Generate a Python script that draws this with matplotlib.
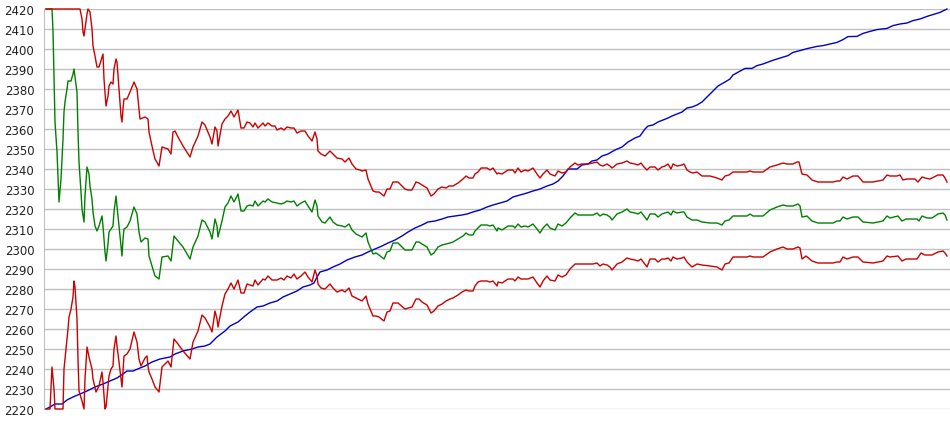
import numpy as np
import matplotlib
matplotlib.use("Agg")
import matplotlib.pyplot as plt

upper_t = [46, 80, 82, 83, 84, 87, 88, 90, 92, 93, 95, 97, 99, 102, 103, 104, 106, 108, 109, 111,
           113, 114, 116, 117, 119, 121, 122, 123, 124, 127, 130, 134, 137, 139, 140, 145, 148, 149, 152, 155,
           159, 162, 168, 171, 173, 175, 178, 183, 190, 193, 198, 202, 205, 210, 212, 215, 217, 218, 222, 225,
           228, 231, 234, 238, 241, 244, 247, 250, 253, 255, 258, 263, 265, 268, 272, 275, 277, 281, 284, 287,
           291, 294, 297, 301, 305, 308, 312, 315, 317, 318, 321, 325, 330, 333, 337, 342, 345, 349, 352, 356,
           360, 362, 366, 368, 373, 376, 379, 384, 387, 390, 393, 398, 405, 408, 412, 416, 419, 422, 427, 431,
           434, 438, 442, 446, 449, 453, 458, 463, 466, 469, 473, 475, 478, 481, 487, 490, 493, 497, 498, 502,
           505, 508, 513, 515, 518, 521, 525, 528, 533, 537, 540, 543, 547, 550, 555, 558, 562, 566, 570, 575,
           578, 582, 588, 593, 597, 600, 603, 607, 610, 612, 617, 622, 627, 630, 635, 638, 641, 644, 647, 650,
           655, 658, 662, 665, 668, 671, 673, 677, 682, 684, 687, 690, 693, 697, 702, 710, 717, 722, 725, 729,
           733, 747, 750, 753, 763, 770, 777, 783, 787, 793, 797, 799, 802, 807, 812, 818, 833, 837, 840, 843,
           847, 853, 858, 863, 873, 878, 883, 887, 890, 897, 900, 903, 907, 915, 918, 922, 925, 930, 938, 943,
           945, 947]
upper = [2420, 2420, 2415, 2408.5, 2406.5, 2417.5, 2420, 2418.5, 2410, 2401.5, 2396.5, 2391, 2391, 2396, 2397.5, 2385, 2371.5, 2376.5, 2381.5, 2383.5,
         2382.5, 2390, 2395, 2393.5, 2380, 2366.5, 2363.5, 2370, 2375, 2375, 2378.5, 2383.5, 2380, 2370, 2365, 2366, 2365, 2358.5, 2351.5, 2345,
         2341.5, 2351, 2350, 2347.5, 2358.5, 2359, 2356, 2351.5, 2346, 2351, 2356.5, 2363.5, 2362, 2356, 2352.5, 2361, 2359, 2351.5, 2362.5, 2365,
         2366.5, 2369, 2366, 2369.5, 2360.5, 2360.5, 2363.5, 2363, 2361, 2363, 2360.5, 2363, 2361.5, 2363, 2361.5, 2361.5, 2359.5, 2360.5, 2359.5, 2361,
         2360.5, 2360.5, 2358, 2359, 2359, 2356.5, 2354, 2358.5, 2355, 2349, 2347.5, 2346.5, 2349, 2347.5, 2345.5, 2345, 2343.5, 2345.5, 2342.5, 2340,
         2339.5, 2339, 2339.5, 2335, 2329, 2328.5, 2328.5, 2326.5, 2330, 2330, 2333.5, 2333.5, 2330, 2329.5, 2329.5, 2333.5, 2333, 2332, 2330.5, 2326.5,
         2327.5, 2330, 2331, 2330.5, 2331.5, 2331.5, 2333, 2335, 2336.5, 2335.5, 2335.5, 2337.5, 2338.5, 2340.5, 2340.5, 2339.5, 2340.5, 2337.5, 2338, 2337.5,
         2338.5, 2339.5, 2339.5, 2338, 2340.5, 2338.5, 2339.5, 2339, 2340.5, 2337.5, 2335.5, 2337.5, 2339.5, 2337.5, 2336.5, 2339, 2338, 2338.5, 2341, 2343,
         2342, 2342.5, 2342.5, 2343, 2343.5, 2342, 2341.5, 2342.5, 2341.5, 2340.5, 2342.5, 2343, 2344, 2343, 2342.5, 2342, 2343, 2341, 2339.5, 2341,
         2341, 2339.5, 2341, 2341.5, 2342.5, 2340, 2342.5, 2341.5, 2342, 2342.5, 2339.5, 2338.5, 2338, 2338.5, 2336.5, 2336.5, 2335.5, 2334.5, 2336.5, 2337,
         2338.5, 2338.5, 2339, 2338.5, 2338.5, 2341, 2342, 2343, 2342.5, 2342.5, 2343.5, 2343.5, 2337.5, 2337, 2334.5, 2333.5, 2333.5, 2334, 2334, 2336,
         2335, 2336.5, 2336.5, 2333.5, 2333.5, 2334, 2334.5, 2337, 2336.5, 2336.5, 2337, 2334.5, 2335, 2335, 2333.5, 2336, 2335.5, 2335, 2337, 2337,
         2335.5, 2333.5]

mid_t = [46, 52, 53, 54, 55, 57, 58, 59, 61, 62, 63, 64, 65, 67, 68, 71, 73, 74, 75, 77,
         78, 79, 81, 82, 84, 85, 87, 89, 90, 92, 93, 95, 97, 99, 102, 103, 105, 106, 108, 109,
         111, 113, 114, 116, 117, 119, 121, 122, 123, 124, 127, 130, 134, 137, 139, 141, 145, 148, 149, 152,
         155, 159, 162, 168, 171, 174, 178, 183, 190, 193, 198, 202, 205, 210, 212, 215, 217, 218, 222, 225,
         228, 231, 234, 238, 241, 244, 247, 250, 253, 255, 258, 263, 265, 268, 272, 277, 281, 284, 287, 291,
         294, 297, 301, 305, 308, 312, 315, 317, 318, 322, 325, 330, 333, 337, 342, 345, 349, 352, 356, 360,
         362, 366, 368, 373, 376, 379, 384, 387, 390, 393, 398, 405, 412, 416, 419, 422, 427, 431, 434, 438,
         442, 446, 450, 453, 458, 463, 466, 469, 473, 475, 478, 481, 487, 490, 493, 497, 498, 502, 505, 508,
         513, 515, 518, 521, 525, 528, 533, 537, 540, 543, 547, 550, 555, 558, 562, 566, 570, 575, 578, 593,
         597, 600, 603, 607, 610, 612, 617, 622, 627, 630, 635, 638, 641, 644, 647, 650, 655, 658, 662, 665,
         668, 671, 673, 677, 682, 684, 687, 692, 697, 702, 710, 717, 722, 725, 729, 733, 747, 750, 753, 763,
         770, 777, 783, 787, 793, 798, 800, 802, 807, 812, 818, 833, 837, 840, 843, 847, 853, 858, 863, 873,
         878, 883, 887, 890, 898, 902, 906, 917, 919, 922, 927, 932, 938, 943, 945, 947]
mid = [2420, 2420, 2409, 2386, 2363.5, 2348.5, 2336.5, 2323.5, 2335, 2345, 2355, 2368.5, 2373.5, 2380, 2384, 2384, 2387.5, 2390, 2386, 2378.5,
       2358.5, 2343.5, 2328.5, 2320, 2313.5, 2326.5, 2341, 2337.5, 2331.5, 2325, 2318.5, 2311.5, 2309, 2311.5, 2316.5, 2311.5, 2298.5, 2294, 2302.5, 2308.5,
       2310, 2311.5, 2318.5, 2326.5, 2321.5, 2311.5, 2301.5, 2296.5, 2305, 2310, 2311, 2314, 2321, 2317.5, 2308.5, 2303.5, 2305.5, 2305, 2296.5, 2291.5,
       2286.5, 2285, 2296, 2296.5, 2294, 2306.5, 2304, 2301, 2295, 2301, 2306.5, 2314.5, 2313.5, 2308.5, 2305, 2315, 2311.5, 2306, 2314, 2321,
       2323, 2326.5, 2323.5, 2327.5, 2319, 2319, 2321.5, 2322, 2321.5, 2324, 2321.5, 2324, 2323.5, 2325, 2323.5, 2323, 2322.5, 2323, 2324, 2323.5,
       2324, 2321.5, 2323, 2324, 2321.5, 2318.5, 2324.5, 2321.5, 2316.5, 2313.5, 2313, 2316, 2313.5, 2312, 2311.5, 2311, 2312.5, 2309.5, 2307.5, 2306.5,
       2306, 2308, 2303.5, 2297.5, 2298, 2297, 2295, 2298.5, 2299, 2303, 2303, 2299.5, 2299.5, 2303.5, 2303.5, 2302.5, 2301, 2297, 2298, 2301,
       2302, 2302.5, 2303, 2303.5, 2305, 2306.5, 2308, 2307, 2307, 2309, 2310.5, 2312, 2312, 2311.5, 2312, 2309, 2310.5, 2309.5, 2310.5, 2311.5,
       2311.5, 2310.5, 2312.5, 2311, 2311.5, 2311, 2312.5, 2310, 2308, 2310.5, 2312.5, 2310.5, 2309.5, 2312.5, 2311.5, 2313, 2315.5, 2318, 2317, 2317,
       2318, 2316.5, 2317.5, 2317, 2316, 2314.5, 2317.5, 2318.5, 2320, 2318.5, 2318, 2317.5, 2318.5, 2316.5, 2314.5, 2317.5, 2317.5, 2316, 2317.5, 2318,
       2318.5, 2317, 2319, 2318, 2318.5, 2318.5, 2316, 2314.5, 2314.5, 2313.5, 2313, 2313, 2312, 2314, 2314.5, 2316.5, 2316.5, 2317.5, 2316.5, 2316.5,
       2319.5, 2321, 2322, 2321.5, 2321.5, 2322.5, 2321.5, 2316, 2316.5, 2314, 2313, 2313, 2314, 2314, 2316, 2315, 2316, 2316, 2313.5, 2313,
       2313.5, 2314, 2316.5, 2315.5, 2316.5, 2314, 2315, 2315, 2314, 2316.5, 2315.5, 2315.5, 2317.5, 2318, 2317, 2314.5]

lower_t = [46, 50, 51, 52, 54, 55, 63, 64, 66, 68, 69, 71, 73, 74, 75, 77, 78, 79, 82, 84,
           85, 87, 89, 92, 93, 96, 99, 102, 103, 105, 106, 108, 109, 111, 113, 114, 116, 117, 119, 121,
           122, 123, 124, 127, 130, 134, 137, 139, 141, 145, 147, 148, 149, 152, 155, 159, 162, 168, 171, 174,
           178, 183, 190, 193, 198, 202, 205, 210, 212, 215, 217, 218, 222, 225, 228, 231, 234, 238, 241, 244,
           247, 250, 253, 255, 258, 263, 265, 268, 272, 277, 281, 284, 287, 291, 294, 297, 301, 305, 308, 312,
           315, 317, 318, 321, 325, 330, 333, 337, 342, 345, 349, 352, 356, 360, 362, 366, 368, 373, 376, 379,
           384, 387, 390, 393, 398, 405, 412, 416, 419, 422, 427, 431, 434, 438, 442, 446, 450, 453, 458, 462,
           466, 469, 473, 475, 478, 481, 487, 490, 493, 497, 498, 502, 505, 508, 513, 515, 518, 521, 525, 528,
           533, 537, 540, 543, 547, 550, 555, 558, 562, 566, 570, 575, 593, 597, 600, 603, 607, 610, 612, 617,
           622, 627, 630, 635, 638, 641, 644, 647, 650, 655, 658, 662, 665, 668, 671, 673, 677, 682, 684, 687,
           692, 697, 702, 710, 717, 722, 725, 729, 733, 747, 750, 753, 763, 770, 777, 783, 787, 793, 798, 800,
           802, 806, 812, 818, 833, 837, 840, 843, 847, 853, 858, 863, 873, 878, 883, 887, 890, 898, 902, 906,
           917, 921, 925, 932, 938, 943, 945, 947]
lower = [2220, 2220, 2230, 2241, 2230, 2220, 2220, 2240, 2250, 2260, 2266, 2270, 2276, 2284, 2281, 2265, 2245, 2229, 2224, 2220,
         2235, 2251, 2246, 2240, 2235, 2228.5, 2231.5, 2238.5, 2233.5, 2220, 2221, 2231.5, 2236.5, 2240, 2241.5, 2250, 2256.5, 2251.5, 2243.5, 2235,
         2231, 2238.5, 2246.5, 2247.5, 2250, 2258.5, 2253.5, 2245, 2241.5, 2245.5, 2246.5, 2241.5, 2238.5, 2235, 2231, 2228.5, 2241, 2244, 2241, 2255,
         2252.5, 2249, 2245, 2253.5, 2259, 2267, 2265.5, 2261, 2258.5, 2269, 2265, 2261, 2271.5, 2277.5, 2280, 2283, 2280, 2284.5, 2278, 2278,
         2282.5, 2282, 2281.5, 2284.5, 2282, 2285, 2284.5, 2286.5, 2284.5, 2284.5, 2285.5, 2284.5, 2286.5, 2285.5, 2287.5, 2285, 2286.5, 2288.5, 2286, 2283.5,
         2289.5, 2286.5, 2282.5, 2280.5, 2280, 2282.5, 2280.5, 2278.5, 2279.5, 2278.5, 2280.5, 2276.5, 2275.5, 2274.5, 2274, 2276.5, 2272.5, 2266.5, 2266.5, 2266,
         2264, 2268.5, 2269, 2273, 2273, 2270, 2271, 2275, 2275, 2273.5, 2272, 2268, 2269, 2271.5, 2272.5, 2274, 2275, 2275.5, 2277, 2278.5,
         2279.5, 2279, 2279, 2281.5, 2283.5, 2284, 2284, 2283.5, 2284, 2281.5, 2283.5, 2283, 2284, 2285, 2285, 2284, 2286, 2285, 2285, 2285,
         2286, 2283, 2281, 2284, 2286.5, 2284.5, 2284, 2287, 2286, 2287, 2290, 2292.5, 2292.5, 2293, 2291.5, 2292.5, 2292, 2291, 2289.5, 2292.5,
         2293.5, 2295.5, 2295, 2294.5, 2294, 2295, 2293, 2291, 2295, 2295, 2293.5, 2295, 2295, 2295.5, 2294, 2296, 2295, 2295.5, 2296, 2293.5,
         2291, 2292.5, 2292, 2291.5, 2291, 2289.5, 2292.5, 2293, 2296, 2296, 2296.5, 2296, 2296, 2298.5, 2300, 2301, 2300, 2300, 2301, 2300.5,
         2295, 2296.5, 2294, 2293, 2293, 2293.5, 2293.5, 2296, 2295, 2296, 2296, 2293.5, 2293, 2293.5, 2294, 2296.5, 2296, 2296.5, 2294, 2295,
         2295, 2298, 2297, 2297, 2298.5, 2299, 2298, 2296.5]

trend_t = [46, 50, 55, 62, 67, 73, 80, 87, 95, 103, 110, 117, 123, 127, 133, 140, 145, 152, 160, 170,
           175, 183, 192, 198, 205, 210, 217, 225, 230, 238, 245, 250, 257, 263, 270, 277, 283, 290, 297, 303,
           310, 314, 317, 320, 327, 333, 340, 347, 355, 362, 368, 375, 382, 388, 395, 402, 408, 415, 422, 428,
           435, 442, 448, 455, 462, 467, 473, 480, 487, 493, 500, 507, 513, 520, 527, 533, 540, 547, 553, 558,
           563, 568, 577, 582, 588, 592, 597, 602, 608, 615, 622, 628, 635, 640, 645, 648, 653, 658, 663, 668,
           672, 677, 682, 687, 692, 697, 702, 705, 712, 718, 725, 730, 733, 745, 752, 757, 763, 772, 777, 788,
           793, 800, 808, 817, 823, 830, 837, 843, 848, 857, 863, 870, 877, 887, 893, 900, 907, 913, 920, 927,
           933, 940, 947]
trend = [2220, 2221, 2222.5, 2222.5, 2224.5, 2226, 2227.5, 2229, 2231, 2232.5, 2234, 2235.5, 2237.5, 2239, 2239, 2240.5, 2241.5, 2243.5, 2245, 2246,
         2247.5, 2249, 2250, 2251, 2251.5, 2252.5, 2256, 2259, 2261.5, 2263.5, 2266.5, 2268.5, 2271, 2271.5, 2273, 2274, 2276, 2277.5, 2279, 2281,
         2282, 2283, 2286, 2288.5, 2289.5, 2291, 2292.5, 2294.5, 2296, 2297, 2298.5, 2300, 2301.5, 2303, 2304.5, 2306.5, 2308.5, 2310.5, 2312, 2313.5,
         2314, 2315, 2316, 2316.5, 2317, 2317.5, 2318.5, 2319.5, 2321, 2322, 2323, 2324, 2326, 2327, 2328, 2329, 2330, 2331.5, 2332.5, 2334,
         2336.5, 2340, 2340, 2342, 2342.5, 2344, 2344.5, 2346.5, 2347.5, 2349.5, 2351, 2353.5, 2355.5, 2356.5, 2360, 2361.5, 2362, 2363.5, 2364.5, 2365.5,
         2366.5, 2367.5, 2368.5, 2370.5, 2371, 2372, 2373.5, 2375, 2378.5, 2381.5, 2383.5, 2385, 2387, 2390.3, 2390.3, 2391.7, 2392.5, 2394.2, 2395, 2396.7,
         2398.3, 2399.2, 2400.3, 2401.3, 2401.7, 2402.5, 2403.3, 2404.7, 2406.2, 2406.3, 2407.8, 2408.8, 2409.7, 2410.3, 2411.7, 2412.5, 2413, 2414.2, 2415, 2416.3,
         2417.2, 2418.3, 2420]

y_ticks = np.arange(2220, 2421, 10)

# Plot
fig = plt.figure(figsize=(9.5, 4.35), dpi=100)
ax = fig.add_axes([44 / 950, 25 / 435, 906 / 950, 400 / 435])

ax.plot(trend_t, trend, color="#0000cc", lw=1.0, clip_on=False)
ax.plot(lower_t, lower, color="#cc0000", lw=1.0, clip_on=False)
ax.plot(mid_t, mid, color="#008000", lw=1.0, clip_on=False)
ax.plot(upper_t, upper, color="#cc0000", lw=1.0, clip_on=False)

ax.set_xlim(44, 950)
ax.set_ylim(2220, 2420)
ax.set_yticks(y_ticks)
ax.set_xticks([])
ax.yaxis.grid(True, color="#c0c0c0", lw=1.0)
ax.set_axisbelow(True)
ax.tick_params(axis="y", length=0, pad=7, labelsize=8.5, labelcolor="#222222")

for s in ["top", "right", "bottom"]:
    ax.spines[s].set_visible(False)
ax.spines["left"].set_color("#c0c0c0")

fig.savefig("out.png", dpi=100)
